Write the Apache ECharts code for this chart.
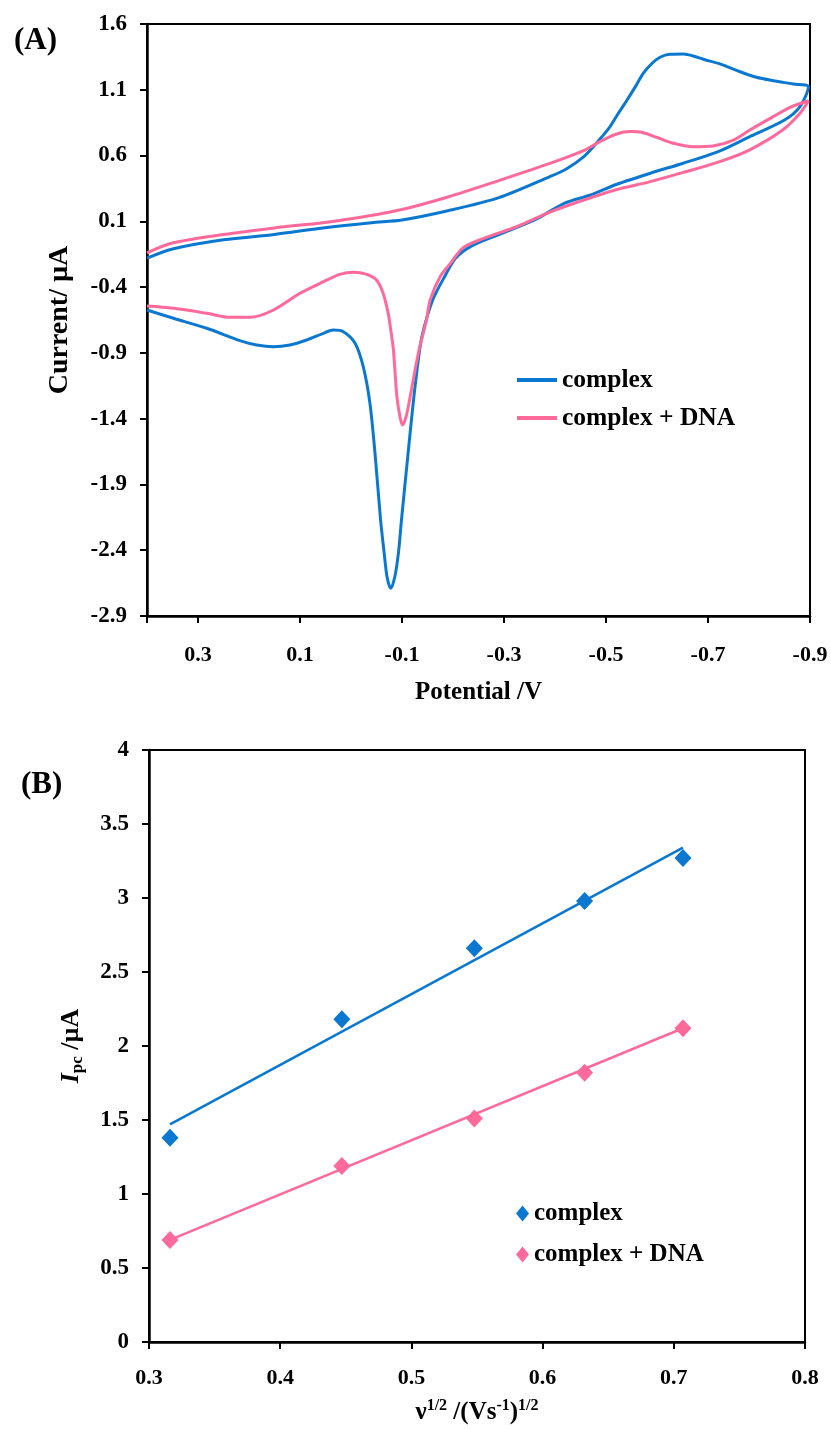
<!DOCTYPE html>
<html>
<head>
<meta charset="utf-8">
<title>CV complex / complex + DNA</title>
<script src="https://cdn.jsdelivr.net/npm/echarts@6.0.0/dist/echarts.min.js"></script>
<style>
    html, body { margin: 0; padding: 0; background: #fff; }
    #chart_cv { position: absolute; left: 0; top: 0; width: 831px; height: 714px; }
    #chart_ipc { position: absolute; left: 0; top: 714px; width: 831px; height: 715px; }
</style>
</head>
<body>
<div id="chart_cv"></div>
<div id="chart_ipc"></div>
<script>
// (A) cyclic voltammograms, [potential V, current µA], in scan order
var complexCV = [
    [0.40, -0.18], [0.35, -0.11], [0.25, -0.04], [0.15, 0.00], [0.055, 0.05], [-0.04, 0.09],
    [-0.10, 0.11], [-0.19, 0.18], [-0.29, 0.28], [-0.39, 0.44], [-0.423, 0.50], [-0.456, 0.59],
    [-0.475, 0.667], [-0.492, 0.743], [-0.508, 0.82], [-0.524, 0.92], [-0.541, 1.02],
    [-0.557, 1.12], [-0.573, 1.225], [-0.59, 1.30], [-0.606, 1.347], [-0.625, 1.37],
    [-0.652, 1.372], [-0.671, 1.357], [-0.691, 1.332], [-0.73, 1.288], [-0.763, 1.237],
    [-0.795, 1.195], [-0.828, 1.169], [-0.867, 1.144], [-0.897, 1.123],
    // reverse scan
    [-0.88, 0.97], [-0.85, 0.87], [-0.78, 0.74], [-0.72, 0.63], [-0.65, 0.54], [-0.59, 0.47],
    [-0.52, 0.38], [-0.47, 0.30], [-0.42, 0.24], [-0.36, 0.11], [-0.29, 0.00], [-0.235, -0.09],
    [-0.205, -0.18], [-0.185, -0.31], [-0.16, -0.50], [-0.14, -0.76], [-0.132, -0.95],
    [-0.122, -1.28], [-0.112, -1.66], [-0.099, -2.17], [-0.093, -2.42], [-0.086, -2.60],
    [-0.078, -2.69], [-0.071, -2.61], [-0.065, -2.42], [-0.058, -2.17], [-0.047, -1.66],
    [-0.037, -1.28], [-0.024, -1.005], [-0.008, -0.827], [0.015, -0.739], [0.035, -0.726],
    [0.054, -0.751], [0.087, -0.802], [0.12, -0.84], [0.152, -0.853], [0.185, -0.84],
    [0.218, -0.807], [0.283, -0.713], [0.348, -0.637], [0.40, -0.574]
];
var dnaCV = [
    [0.40, -0.14], [0.35, -0.065], [0.25, 0.00], [0.15, 0.05], [0.055, 0.09], [-0.01, 0.125],
    [-0.10, 0.19], [-0.19, 0.285], [-0.29, 0.41], [-0.39, 0.54], [-0.456, 0.637], [-0.488, 0.706],
    [-0.521, 0.764], [-0.547, 0.782], [-0.573, 0.774], [-0.599, 0.739], [-0.632, 0.693],
    [-0.671, 0.667], [-0.71, 0.673], [-0.75, 0.718], [-0.782, 0.794], [-0.822, 0.883],
    [-0.861, 0.967], [-0.897, 1.017],
    // reverse scan
    [-0.88, 0.92], [-0.845, 0.79], [-0.78, 0.64], [-0.72, 0.55], [-0.65, 0.47], [-0.585, 0.40],
    [-0.52, 0.34], [-0.455, 0.26], [-0.39, 0.17], [-0.325, 0.06], [-0.26, -0.03], [-0.22, -0.10],
    [-0.195, -0.22], [-0.175, -0.32], [-0.155, -0.50], [-0.148, -0.65], [-0.132, -0.903],
    [-0.116, -1.233], [-0.108, -1.385], [-0.101, -1.448], [-0.096, -1.385], [-0.09, -1.233],
    [-0.083, -0.87], [-0.077, -0.70], [-0.073, -0.60], [-0.063, -0.447], [-0.05, -0.346],
    [-0.031, -0.303], [-0.005, -0.287], [0.022, -0.303], [0.054, -0.359], [0.10, -0.447],
    [0.152, -0.574], [0.198, -0.63], [0.237, -0.63], [0.283, -0.599], [0.348, -0.561],
    [0.40, -0.544]
];

// (B) cathodic peak current vs square root of scan rate
var scanRoot = [0.316, 0.447, 0.548, 0.632, 0.707];
var complexIpc = [1.38, 2.18, 2.66, 2.98, 3.27];
var dnaIpc = [0.69, 1.19, 1.51, 1.82, 2.12];
// trend lines, end points
var complexFit = [[0.316, 1.47], [0.707, 3.34]];
var dnaFit = [[0.316, 0.69], [0.707, 2.12]];

var BLUE = '#0a78d0';
var PINK = '#ff6a9a';
var FONT = 'Liberation Serif';

window.onload = function () {
    GenChartCV();
    GenChartIpc();
};

function axisStyle() {
    return {
        axisLine: { onZero: false, lineStyle: { color: '#000', width: 2.5 } },
        axisTick: { show: true, inside: false, length: 7, lineStyle: { color: '#000', width: 2 } },
        splitLine: { show: false }
    };
}

function GenChartCV() {
    var myChart = echarts.init(document.getElementById('chart_cv'));
    var option = {
        animation: false,
        title: {
            text: '(A)',
            left: 9,
            top: 20,
            textStyle: { fontFamily: FONT, fontWeight: 'bold', fontSize: 31, color: '#000' }
        },
        legend: {
            orient: 'vertical',
            left: 517,
            top: 367,
            padding: 0,
            itemGap: 12,
            icon: 'rect',
            itemWidth: 40,
            itemHeight: 4,
            textStyle: { fontFamily: FONT, fontWeight: 'bold', fontSize: 25.5, color: '#000' },
            data: ['complex', 'complex + DNA']
        },
        grid: {
            left: 147, top: 24, width: 663, height: 592,
            show: true, borderColor: '#000', borderWidth: 2,
            outerBoundsMode: 'none'
        },
        xAxis: Object.assign({
            type: 'value',
            inverse: true,
            min: -0.9,
            max: 0.4,
            interval: 0.2,      // ticks from min: -0.9, -0.7 ... 0.3
            name: 'Potential /V',
            nameLocation: 'middle',
            nameGap: 64,
            nameTextStyle: { fontFamily: FONT, fontWeight: 'bold', fontSize: 25, color: '#000' },
            axisLabel: {
                margin: 28,
                fontFamily: FONT, fontWeight: 'bold', fontSize: 22, color: '#000',
                formatter: function (v) { return v > 0.35 ? '' : v.toFixed(1); }
            }
        }, axisStyle()),
        yAxis: Object.assign({
            type: 'value',
            min: -2.9,
            max: 1.6,
            interval: 0.5,
            name: 'Current/ µA',
            nameLocation: 'middle',
            nameGap: 73,
            nameRotate: 90,
            nameTextStyle: { fontFamily: FONT, fontWeight: 'bold', fontSize: 28, color: '#000' },
            axisLabel: {
                margin: 20,
                fontFamily: FONT, fontWeight: 'bold', fontSize: 23, color: '#000',
                formatter: function (v) { return v.toFixed(1); }
            }
        }, axisStyle()),
        series: [{
            name: 'complex',
            type: 'line',
            data: complexCV,
            smooth: 0.3,
            showSymbol: false,
            lineStyle: { color: BLUE, width: 3 },
            itemStyle: { color: BLUE }
        }, {
            name: 'complex + DNA',
            type: 'line',
            data: dnaCV,
            smooth: 0.3,
            showSymbol: false,
            lineStyle: { color: PINK, width: 3 },
            itemStyle: { color: PINK }
        }]
    };
    myChart.setOption(option);
}

function GenChartIpc() {
    var myChart = echarts.init(document.getElementById('chart_ipc'));
    var complexPts = scanRoot.map(function (x, i) { return [x, complexIpc[i]]; });
    var dnaPts = scanRoot.map(function (x, i) { return [x, dnaIpc[i]]; });
    var option = {
        animation: false,
        title: {
            text: '(B)',
            left: 16,
            top: 50,
            textStyle: { fontFamily: FONT, fontWeight: 'bold', fontSize: 31, color: '#000' }
        },
        legend: {
            orient: 'vertical',
            left: 516,
            top: 487,
            padding: 0,
            itemGap: 16,
            icon: 'diamond',
            itemWidth: 13,
            itemHeight: 16,
            itemStyle: { opacity: 1 },
            textStyle: { fontFamily: FONT, fontWeight: 'bold', fontSize: 25, color: '#000' },
            data: ['complex', 'complex + DNA']
        },
        grid: {
            left: 149, top: 36, width: 656, height: 592,
            show: true, borderColor: '#000', borderWidth: 2,
            outerBoundsMode: 'none'
        },
        xAxis: Object.assign({
            type: 'value',
            min: 0.3,
            max: 0.8,
            interval: 0.1,
            name: '{n|ν}{p|1/2}{n| /(Vs}{p|-1}{n|)}{p|1/2}',
            nameLocation: 'middle',
            nameGap: 56,
            nameTextStyle: {
                fontFamily: FONT, fontWeight: 'bold', color: '#000',
                rich: {
                    n: { fontFamily: FONT, fontWeight: 'bold', fontSize: 25, lineHeight: 30, verticalAlign: 'middle' },
                    p: { fontFamily: FONT, fontWeight: 'bold', fontSize: 16, lineHeight: 15, verticalAlign: 'top' }
                }
            },
            axisLabel: {
                margin: 25,
                fontFamily: FONT, fontWeight: 'bold', fontSize: 22, color: '#000',
                formatter: function (v) { return v.toFixed(1); }
            }
        }, axisStyle()),
        yAxis: Object.assign({
            type: 'value',
            min: 0,
            max: 4,
            interval: 0.5,
            name: '{i|I}{s|pc}{n| /µA}',
            nameLocation: 'middle',
            nameGap: 63,
            nameRotate: 90,
            nameTextStyle: {
                fontFamily: FONT, fontWeight: 'bold', color: '#000',
                rich: {
                    i: { fontFamily: FONT, fontWeight: 'bold', fontStyle: 'italic', fontSize: 26, lineHeight: 30, verticalAlign: 'middle' },
                    s: { fontFamily: FONT, fontWeight: 'bold', fontSize: 17, lineHeight: 15, verticalAlign: 'bottom' },
                    n: { fontFamily: FONT, fontWeight: 'bold', fontSize: 26, lineHeight: 30, verticalAlign: 'middle' }
                }
            },
            axisLabel: {
                margin: 20,
                fontFamily: FONT, fontWeight: 'bold', fontSize: 23, color: '#000'
            }
        }, axisStyle()),
        series: [{
            name: 'complex',
            type: 'scatter',
            data: complexPts,
            symbol: 'diamond',
            symbolSize: [17, 18],
            itemStyle: { color: BLUE, opacity: 1 }
        }, {
            name: 'complex + DNA',
            type: 'scatter',
            data: dnaPts,
            symbol: 'diamond',
            symbolSize: [17, 18],
            itemStyle: { color: PINK, opacity: 1 }
        }, {
            name: 'complex fit',
            type: 'line',
            data: complexFit,
            showSymbol: false,
            lineStyle: { color: BLUE, width: 2.5 }
        }, {
            name: 'complex + DNA fit',
            type: 'line',
            data: dnaFit,
            showSymbol: false,
            lineStyle: { color: PINK, width: 2.5 }
        }]
    };
    myChart.setOption(option);
}
</script>
</body>
</html>
